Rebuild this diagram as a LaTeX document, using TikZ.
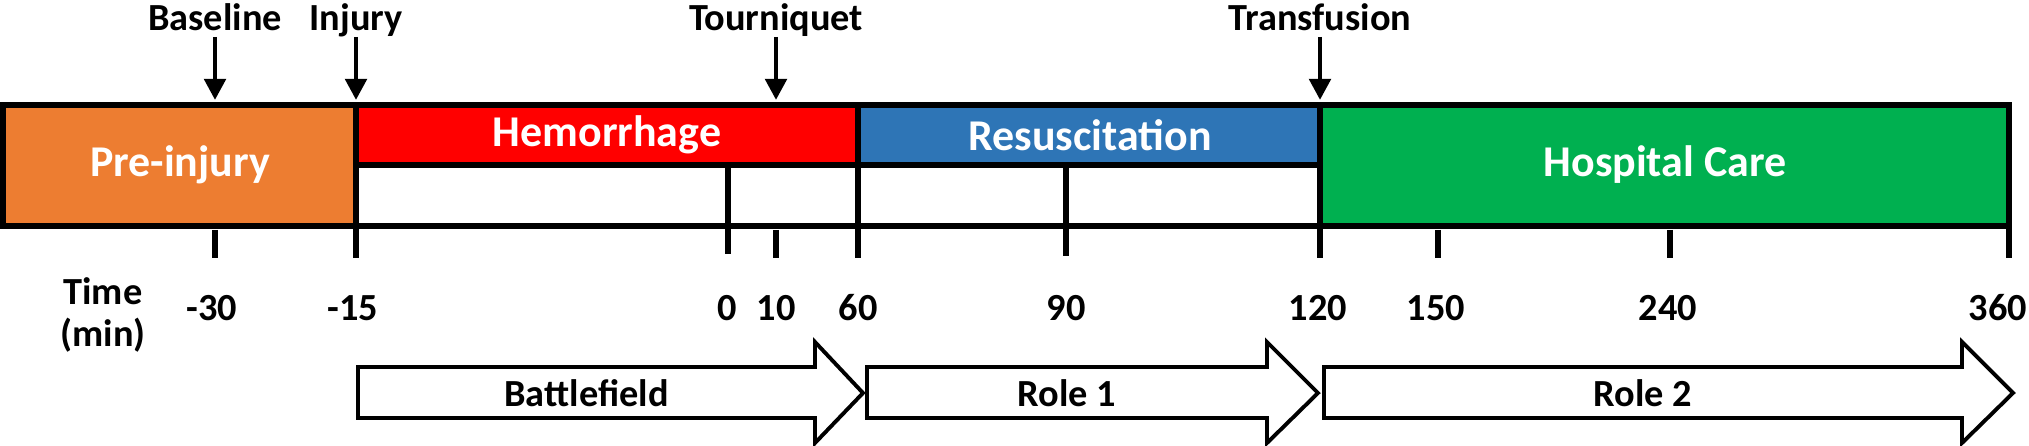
\documentclass[tikz,border=0pt]{standalone}
\usepackage{fontspec}
\setmainfont{Carlito}
\usetikzlibrary{arrows.meta,positioning}
\definecolor{preorange}{HTML}{ED7D31}
\definecolor{hemred}{HTML}{FF0000}
\definecolor{resblue}{HTML}{2E75B6}
\definecolor{hospgreen}{HTML}{00B050}
\tikzset{
  phase/.style     = {font=\bfseries\fontsize{12.5}{15}\selectfont, text=white},
  event/.style     = {font=\bfseries\fontsize{10.9}{13}\selectfont, anchor=base, text depth=0pt, inner sep=1.5pt},
  ticklabel/.style = {font=\bfseries\fontsize{10.9}{13}\selectfont, inner sep=0pt},
  stagelabel/.style= {font=\bfseries\fontsize{10.9}{13}\selectfont},
  frame/.style     = {line width=1.9pt},
  tickmark/.style  = {line width=1.8pt},
  marker/.style    = {-{Triangle[width=6pt,length=6pt]}, line width=1.4pt},
  stagearrow/.style= {draw, line width=1.1pt, fill=white, line join=miter}
}

\begin{document}
\begin{tikzpicture}[x=0.01cm,y=-0.01cm]
    \useasboundingbox (0,0) rectangle (2029,446);

    % coloured phases
    \fill[preorange] (3,105) rectangle (356,226);
    \fill[hemred] (356,105) rectangle (858,165);
    \fill[resblue] (858,105) rectangle (1320,165);
    \fill[hospgreen] (1320,105) rectangle (2009,226);

    \node[phase] (preinjury) at (180,165) {Pre-injury};
    \node[phase] (hemorrhage) at (607,135) {Hemorrhage};
    \node[phase] (resuscitation) at (1090,135) {Resuscitation};
    \node[phase] (hospital) at (1665,165) {Hospital Care};

    % frame and dividers
    \draw[frame] (3,105) rectangle (2009,226);
    \draw[tickmark] (356,165) -- (1320,165);
    \foreach \x in {356,858,1320}
      \draw[tickmark] (\x,105) -- (\x,258);
    \draw[tickmark] (728,165) -- (728,254);
    \draw[tickmark] (1066,165) -- (1066,256);
    \draw[tickmark] (2009,226) -- (2009,258);
    \foreach \x in {215,776,1438,1670}
      \draw[tickmark] (\x,230) -- (\x,258);

    % events on top
    \foreach \name/\x/\txt in {baseline/215/Baseline, injury/356/Injury, tourniquet/776/Tourniquet, transfusion/1320/Transfusion}{
      \node[event] (\name) at (\x,31) {\txt};
      \coordinate (\name-tip) at (\x,100);
      \draw[marker] (\name.south) -- (\name-tip);
    }

    % time axis
    \node[ticklabel, align=center] (time) at (103,315) {Time\\[-1pt](min)};
    \foreach \t/\x in {-30/212, -15/353, 0/727, 10/776, 60/858, 90/1066, 120/1318, 150/1436, 240/1668, 360/1998}
      \node[ticklabel] (t\t) at (\x,308) {\t};

    % care stages
    \foreach \name/\a/\b/\c/\txt in {battlefield/358/815/863/Battlefield, roleone/867/1267/1318/Role 1, roletwo/1324/1962/2013/Role 2}{
      \draw[stagearrow] (\a,367) -- (\b,367) -- (\b,342) -- (\c,393) -- (\b,443) -- (\b,418) -- (\a,418) -- cycle;
      \node[stagelabel] (\name) at ({(\a+\b)/2},393) {\txt};
    }
\end{tikzpicture}
\end{document}
